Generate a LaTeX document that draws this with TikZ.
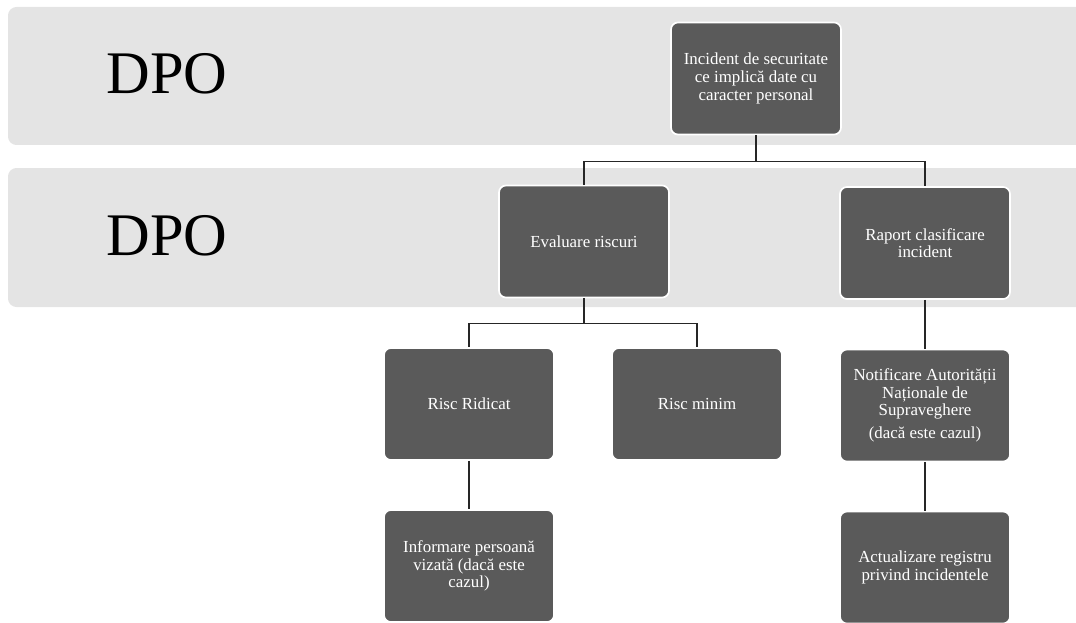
\documentclass[tikz,border=0pt]{standalone}
\usepackage{fontspec}
\setmainfont{Liberation Serif}
\usepackage{xcolor}
\usetikzlibrary{positioning}
\definecolor{bandgray}{HTML}{E4E4E4}
\definecolor{boxgray}{HTML}{5A5A5A}

\begin{document}
\begin{tikzpicture}[
    x=0.025cm, y=-0.025cm,
    band/.style={fill=bandgray, rounded corners=6pt},
    box/.style={rectangle, draw=white, line width=1.2pt, fill=boxgray, rounded corners=5pt, text=white, align=center, minimum width=4.25cm, minimum height=2.8cm, inner sep=2pt, font=\fontsize{12}{12.5}\selectfont},
    dpolabel/.style={font=\fontsize{43}{43}\selectfont, text=black},
    link/.style={draw=black!85, line width=0.9pt}
]
    \clip (0,0) rectangle (1076,623);

    % ============ Bands ============
    \fill[band] (8,7) rectangle (1100,145);
    \fill[band] (8,168) rectangle (1100,307);
    \node[dpolabel] (dpotop) at (167,74) {DPO};
    \node[dpolabel] (dpomid) at (167,236) {DPO};

    % ============ Boxes ============
    \node[box] (incident) at (756,78.5) {Incident de securitate\\ ce implică date cu\\ caracter personal};
    \node[box] (evaluare) at (584,241.5) {Evaluare riscuri};
    \node[box] (raport) at (925,243) {Raport clasificare\\ incident};
    \node[box] (ridicat) at (469,404) {Risc Ridicat};
    \node[box] (minim) at (697,404) {Risc minim};
    \node[box] (notif) at (925,405.5) {Notificare Autorității\\ Naționale de\\ Supraveghere\\[4pt] (dacă este cazul)};
    \node[box] (informare) at (469,566) {Informare persoană\\ vizată (dacă este\\ cazul)};
    \node[box] (actualizare) at (925,567.5) {Actualizare registru\\ privind incidentele};

    % ============ Connections ============
    \draw[link] (incident.south) -- ++(0,26) -| (evaluare.north);
    \draw[link] (incident.south) -- ++(0,26) -| (raport.north);
    \draw[link] (evaluare.south) -- ++(0,25) -| (ridicat.north);
    \draw[link] (evaluare.south) -- ++(0,25) -| (minim.north);
    \draw[link] (raport.south) -- (notif.north);
    \draw[link] (ridicat.south) -- (informare.north);
    \draw[link] (notif.south) -- (actualizare.north);
\end{tikzpicture}
\end{document}
